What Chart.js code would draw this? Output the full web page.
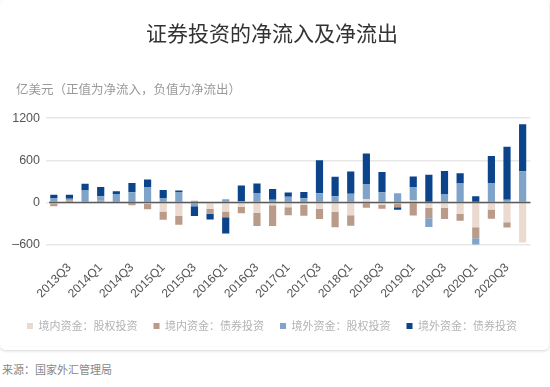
<!DOCTYPE html>
<html>
<head>
<meta charset="utf-8">
<script src="https://cdn.jsdelivr.net/npm/chart.js@4"></script>
<style>
  html, body { margin: 0; padding: 0; background: #fff; }
  body { width: 550px; height: 387px; position: relative; overflow: hidden; }
  #card { position: absolute; left: 0; top: 0; width: 549px; height: 350px; background: #fff;
          border-radius: 5px; box-shadow: 0 1px 3px rgba(0,0,0,0.16); }
  #sub { position: absolute; left: 16px; top: 80px; font: 12.5px "Noto Sans CJK SC", sans-serif; color: #9a9a9a; line-height: 18px; white-space: nowrap; }
  #src { position: absolute; left: 2px; top: 361px; font: 11px "Noto Sans CJK SC", sans-serif; color: #888; line-height: 16px; }
</style>
</head>
<body>
<div id="card"><canvas id="c" width="549" height="350"></canvas></div>
<div id="sub">亿美元（正值为净流入，负值为净流出）</div>
<div id="src">来源：国家外汇管理局</div>
<script>
const quarters = ['2013Q2','2013Q3','2013Q4','2014Q1','2014Q2','2014Q3','2014Q4','2015Q1','2015Q2','2015Q3','2015Q4',
  '2016Q1','2016Q2','2016Q3','2016Q4','2017Q1','2017Q2','2017Q3','2017Q4','2018Q1','2018Q2','2018Q3','2018Q4',
  '2019Q1','2019Q2','2019Q3','2019Q4','2020Q1','2020Q2','2020Q3','2020Q4'];

// 境内资金：股权投资
const domesticEquity = [-15, 0, 0, 0, 0, -10, -24, -128, -190, 0, -90,
  -130, -67, -150, -40, -70, -34, -90, -138, -184, 48, -35, -20,
  28, -75, -81, -162, -355, -100, -282, -570];
// 境内资金：债券投资
const domesticBond = [-40, 29, 0, 25, 0, -30, -72, -120, -130, 25, -70,
  -82, -86, -185, -295, -112, -155, -148, -215, -150, -75, -55, -48,
  -185, -152, -155, -98, -155, -133, -74, 0];
// 境外资金：股权投资
const foreignEquity = [62, 24, 170, 62, 118, 144, 221, 62, 149, -55, 0,
  45, 15, 135, 38, 80, 60, 130, 86, 122, 206, 143, 130,
  190, -125, 120, 268, -100, 277, 38, 445];
// 境外资金：债券投资
const foreignBond = [48, 57, 95, 134, 40, 134, 105, 115, 19, -140, -85,
  -230, 225, 135, 152, 62, 90, 470, 278, 320, 442, 290, -38,
  152, 395, 328, 147, 86, 383, 755, 668];

const seriesNames = ['境内资金：股权投资', '境内资金：债券投资', '境外资金：股权投资', '境外资金：债券投资'];
const seriesColors = ['#ebdacf', '#b99b8a', '#7fa3c9', '#0b448a'];
const yTicks = [1200, 600, 0, -600];
const yTickLabels = ['1200', '600', '0', '–600'];

const cjk = '"Noto Sans CJK SC", sans-serif';
const latin = '"Liberation Sans", Arial, sans-serif';

const zeroLine = {
  id: 'zeroLine',
  afterDatasetsDraw(chart) {
    const y = chart.scales.y.getPixelForValue(0);
    const a = chart.chartArea;
    const ctx = chart.ctx;
    ctx.save();
    ctx.strokeStyle = '#5a5a5a';
    ctx.lineWidth = 1.5;
    ctx.beginPath();
    ctx.moveTo(a.left + 3, y);
    ctx.lineTo(a.right, y);
    ctx.stroke();
    ctx.restore();
  }
};

const values = [domesticEquity, domesticBond, foreignEquity, foreignBond];

new Chart(document.getElementById('c'), {
  type: 'bar',
  data: {
    labels: quarters,
    datasets: values.map((v, i) => ({
      label: seriesNames[i],
      data: v,
      backgroundColor: seriesColors[i],
      borderWidth: 0,
      categoryPercentage: 1,
      barPercentage: 0.46
    }))
  },
  options: {
    responsive: false,
    animation: false,
    layout: { padding: { left: 6, right: 11, top: 0, bottom: 8.5 } },
    plugins: {
      tooltip: { enabled: false },
      title: {
        display: true,
        text: '证券投资的净流入及净流出',
        color: '#333',
        font: { family: cjk, size: 21, weight: 'normal' },
        padding: { top: 20, bottom: 73 }
      },
      legend: {
        position: 'bottom',
        labels: {
          boxWidth: 6, boxHeight: 6, padding: 16,
          color: '#b3b3b3',
          font: { family: cjk, size: 11 }
        }
      }
    },
    scales: {
      x: {
        stacked: true,
        grid: { display: false, drawTicks: false },
        border: { display: false },
        afterFit(axis) { axis.height = 60; },
        ticks: {
          autoSkip: false,
          minRotation: 45, maxRotation: 45,
          padding: 16,
          color: '#555',
          font: { family: latin, size: 12 },
          callback(value, index) { return index % 2 === 1 ? quarters[index] : ''; }
        }
      },
      y: {
        stacked: true,
        min: -600, max: 1200,
        afterFit(axis) { axis.width = 40; },
        afterBuildTicks(axis) { axis.ticks = yTicks.map(v => ({ value: v })); },
        grid: { color: '#e7e7e7', lineWidth: 1.5, drawTicks: false },
        border: { display: false },
        ticks: {
          padding: 6,
          color: '#555',
          font: { family: latin, size: 12.5 },
          callback(value) { const i = yTicks.indexOf(value); return i >= 0 ? yTickLabels[i] : ''; }
        }
      }
    }
  },
  plugins: [zeroLine]
});
</script>
</body>
</html>
